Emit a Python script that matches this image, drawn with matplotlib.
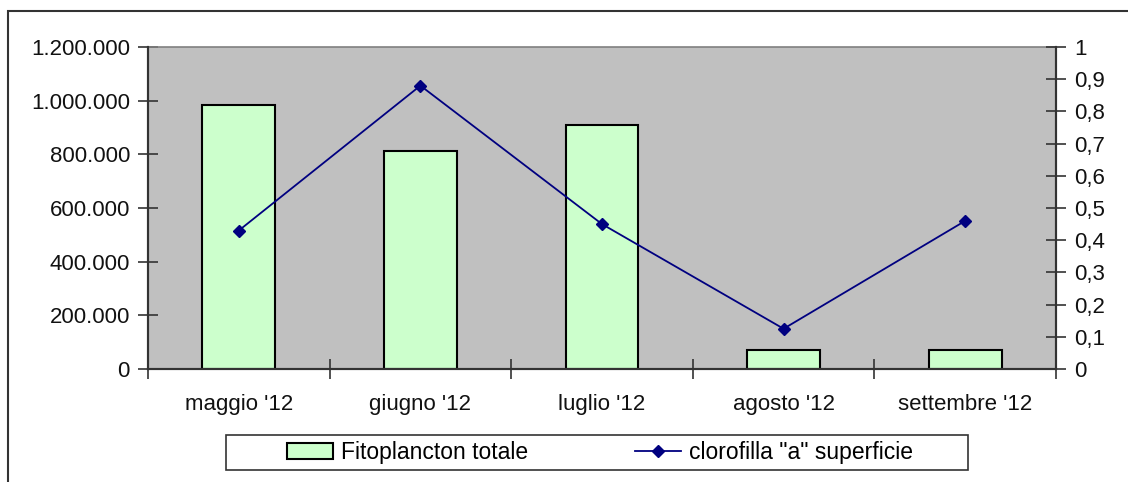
import numpy as np
from matplotlib import pyplot as plt
from matplotlib.patches import Rectangle, Patch
from matplotlib.lines import Line2D
from matplotlib.ticker import FuncFormatter

plt.rcParams['font.family'] = ['Liberation Sans', 'DejaVu Sans']

months = ["maggio '12", "giugno '12", "luglio '12", "agosto '12", "settembre '12"]
fito = [985000, 812000, 909000, 70000, 70000]
clorofilla = [0.43, 0.88, 0.45, 0.125, 0.46]

fs = 16
fig = plt.figure(figsize=(11.28, 4.82), dpi=100)
ax = fig.add_axes([148/1128, 1 - 369/482, (1056-148)/1128, (369-47)/482])
ax.set_facecolor('#C0C0C0')

x = np.arange(len(months))
ax.bar(x, fito, width=0.4, color='#CCFFCC', edgecolor='black', linewidth=1.5, zorder=2)
ax.set_xlim(-0.5, len(months) - 0.5)
ax.set_ylim(0, 1200000)
ax.set_yticks(np.arange(0, 1200001, 200000))
ax.yaxis.set_major_formatter(FuncFormatter(lambda v, p: f'{int(v):,}'.replace(',', '.')))
ax.set_xticks(x)
ax.set_xticklabels(months)
ax.set_xticks(np.arange(-0.5, len(months), 1.0), minor=True)
ax.tick_params(axis='x', which='major', length=0, pad=18, labelsize=fs, colors='#111111')
ax.tick_params(axis='x', which='minor', direction='inout', length=14, width=1.2, color='#333333')
ax.tick_params(axis='y', direction='inout', length=14, width=1.2, color='#333333', pad=6, labelsize=fs, labelcolor='#111111')

for s in ['left', 'bottom', 'right']:
    ax.spines[s].set_color('#333333')
    ax.spines[s].set_linewidth(1.5)
ax.spines['top'].set_color('#808080')
ax.spines['top'].set_linewidth(1.2)

ax2 = ax.twinx()
ax2.plot(x, clorofilla, color='#000080', linewidth=1.3, marker='D', markersize=6)
ax2.set_ylim(0, 1)
ax2.set_yticks(np.arange(0, 1.01, 0.1))
ax2.yaxis.set_major_formatter(FuncFormatter(lambda v, p: ('%g' % round(v, 1)).replace('.', ',')))
ax2.tick_params(axis='y', direction='inout', length=14, width=1.2, color='#333333', pad=6, labelsize=fs, labelcolor='#111111')
for s in ['left', 'bottom', 'right']:
    ax2.spines[s].set_color('#333333')
    ax2.spines[s].set_linewidth(1.5)
ax2.spines['top'].set_visible(False)

handles = [Patch(facecolor='#CCFFCC', edgecolor='black', linewidth=1.5),
           Line2D([], [], color='#000080', linewidth=1.3, marker='D', markersize=6)]
labels = ['Fitoplancton totale', 'clorofilla "a" superficie']
fig.legend(handles, labels, ncol=2, loc='center', bbox_to_anchor=(600/1128, 1 - 452.5/482),
           frameon=False, fontsize=16.5, handlelength=2.0, handletextpad=0.35, columnspacing=4.7)
fig.patches.append(Rectangle((226/1128, 1 - 470/482), 742/1128, 35/482, transform=fig.transFigure,
                             fill=False, edgecolor='#333333', linewidth=1.2))
fig.patches.append(Rectangle((8/1128, -0.2), 1.5, 1.2 - 11/482, transform=fig.transFigure,
                             fill=False, edgecolor='#333333', linewidth=1.5))

fig.savefig('out.png', dpi=100)
